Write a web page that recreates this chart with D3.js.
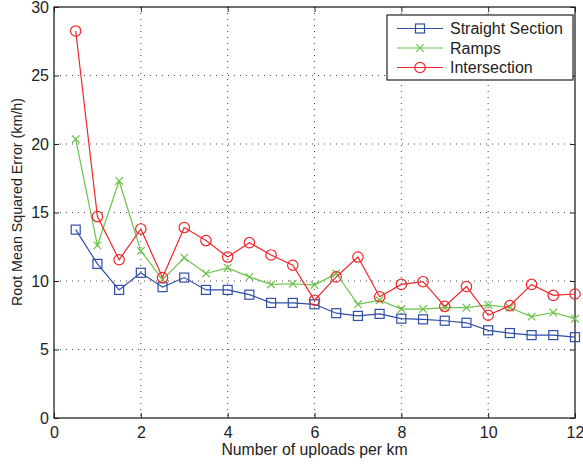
<!DOCTYPE html>
<html>
<head>
<meta charset="utf-8">
<script src="https://cdn.jsdelivr.net/npm/d3@7"></script>
<style>
    body { margin: 0; background: #fff; }
    text { font-family: "Liberation Sans", Arial, sans-serif; fill: #222; }
</style>
</head>
<body>
<script>
"use strict"

/* valori */
const uploads = [0.5, 1, 1.5, 2, 2.5, 3, 3.5, 4, 4.5, 5, 5.5, 6, 6.5, 7, 7.5, 8, 8.5, 9, 9.5, 10, 10.5, 11, 11.5, 12];
const straightSection = [13.75, 11.25, 9.35, 10.6, 9.55, 10.25, 9.35, 9.35, 9.0, 8.4, 8.4, 8.3, 7.65, 7.45, 7.6, 7.25, 7.2, 7.1, 6.95, 6.4, 6.2, 6.05, 6.05, 5.9];
const ramps = [20.35, 12.6, 17.3, 12.2, 10.1, 11.7, 10.55, 10.95, 10.3, 9.75, 9.8, 9.7, 10.55, 8.3, 8.6, 7.95, 7.95, 8.05, 8.05, 8.25, 8.05, 7.4, 7.7, 7.25];
const intersection = [28.25, 14.7, 11.55, 13.8, 10.25, 13.9, 12.95, 11.75, 12.8, 11.9, 11.15, 8.6, 10.3, 11.75, 8.85, 9.75, 9.95, 8.15, 9.6, 7.5, 8.2, 9.75, 8.95, 9.05];
const xTicks = [0, 2, 4, 6, 8, 10, 12];
const yTicks = [0, 5, 10, 15, 20, 25, 30];
const seriesNames = ["Straight Section", "Ramps", "Intersection"];

const grafico = { larghezza: 583, altezza: 466 };
const area = { sinistra: 54, destra: 575, alto: 7, basso: 418 };

const x = d3.scaleLinear().domain([0, 12]).range([area.sinistra, area.destra]);
const y = d3.scaleLinear().domain([0, 30]).range([area.basso, area.alto]);

const svg = d3.select("body")
    .append("svg")
    .attr("width", grafico.larghezza)
    .attr("height", grafico.altezza);

/* griglia tratteggiata */
const griglia = svg.append("g");
griglia.selectAll("line.gx")
    .data(xTicks.slice(1, -1))
    .enter()
    .append("line")
    .attr("x1", d => x(d)).attr("x2", d => x(d))
    .attr("y1", area.alto).attr("y2", area.basso);
griglia.selectAll("line.gy")
    .data(yTicks.slice(1, -1))
    .enter()
    .append("line")
    .attr("y1", d => y(d)).attr("y2", d => y(d))
    .attr("x1", area.sinistra).attr("x2", area.destra);
griglia.selectAll("line")
    .attr("stroke", "#444")
    .attr("stroke-width", 1)
    .attr("stroke-dasharray", "1,5");

/* assi con tacche interne su tutti e quattro i lati */
const tacca = 5;
svg.append("g")
    .attr("transform", "translate(0," + area.basso + ")")
    .call(d3.axisBottom(x).tickValues(xTicks).tickSizeInner(-tacca).tickSizeOuter(0).tickPadding(9))
    .call(g => g.select(".domain").remove());
svg.append("g")
    .attr("transform", "translate(0," + area.alto + ")")
    .call(d3.axisTop(x).tickValues(xTicks).tickSizeInner(-tacca).tickSizeOuter(0).tickFormat(""))
    .call(g => g.select(".domain").remove());
svg.append("g")
    .attr("transform", "translate(" + area.sinistra + ",0)")
    .call(d3.axisLeft(y).tickValues(yTicks).tickSizeInner(-tacca).tickSizeOuter(0).tickPadding(5))
    .call(g => g.select(".domain").remove());
svg.append("g")
    .attr("transform", "translate(" + area.destra + ",0)")
    .call(d3.axisRight(y).tickValues(yTicks).tickSizeInner(-tacca).tickSizeOuter(0).tickFormat(""))
    .call(g => g.select(".domain").remove());
svg.selectAll(".tick line").attr("stroke", "#222");
svg.selectAll(".tick text")
    .attr("font-size", 16)
    .attr("font-family", "Liberation Sans, Arial, sans-serif")
    .attr("fill", "#222");

/* cornice */
svg.append("rect")
    .attr("x", area.sinistra).attr("y", area.alto)
    .attr("width", area.destra - area.sinistra)
    .attr("height", area.basso - area.alto)
    .attr("fill", "none")
    .attr("stroke", "#222")
    .attr("stroke-width", 1.3);

/* titoli degli assi */
svg.append("text")
    .attr("x", (area.sinistra + area.destra) / 2)
    .attr("y", 455)
    .attr("text-anchor", "middle")
    .attr("font-size", 15.8)
    .text("Number of uploads per km");
svg.append("text")
    .attr("transform", "translate(22,202) rotate(-90)")
    .attr("text-anchor", "middle")
    .attr("font-size", 14.3)
    .text("Root Mean Squared Error (km/h)");

/* serie */
const serie = [
    { nome: seriesNames[0], valori: straightSection, colore: "#2f4ea6", marker: "square" },
    { nome: seriesNames[1], valori: ramps, colore: "#6cc24a", marker: "cross" },
    { nome: seriesNames[2], valori: intersection, colore: "#f0262b", marker: "circle" }
];

const linea = d3.line()
    .x((d, i) => x(uploads[i]))
    .y(d => y(d));

function disegnaMarker(g, tipo, colore) {
    if (tipo == "square") {
        g.append("rect")
            .attr("x", -4.5).attr("y", -4.5).attr("width", 9).attr("height", 9)
            .attr("fill", "none").attr("stroke", colore).attr("stroke-width", 1.2);
    } else if (tipo == "circle") {
        g.append("circle")
            .attr("r", 5.2)
            .attr("fill", "none").attr("stroke", colore).attr("stroke-width", 1.2);
    } else {
        g.append("path")
            .attr("d", "M-3.8,-3.8L3.8,3.8M-3.8,3.8L3.8,-3.8")
            .attr("stroke", colore).attr("stroke-width", 1.2);
    }
}

serie.forEach(function (s) {
    svg.append("path")
        .attr("d", linea(s.valori))
        .attr("fill", "none")
        .attr("stroke", s.colore)
        .attr("stroke-width", 1.2);
    svg.append("g")
        .selectAll("g")
        .data(s.valori)
        .enter()
        .append("g")
        .attr("transform", (d, i) => "translate(" + x(uploads[i]) + "," + y(d) + ")")
        .each(function () { disegnaMarker(d3.select(this), s.marker, s.colore) });
});

/* legenda */
const legenda = svg.append("g").attr("transform", "translate(387,15)");
legenda.append("rect")
    .attr("width", 186).attr("height", 65)
    .attr("fill", "#fff")
    .attr("stroke", "#222")
    .attr("stroke-width", 1.2);
const voci = legenda.selectAll("g")
    .data(serie)
    .enter()
    .append("g")
    .attr("transform", (d, i) => "translate(0," + (13.5 + i * 19.5) + ")");
voci.append("line")
    .attr("x1", 10).attr("x2", 56)
    .attr("stroke", d => d.colore)
    .attr("stroke-width", 1.2);
voci.append("g")
    .attr("transform", "translate(33,0)")
    .each(function (d) { disegnaMarker(d3.select(this), d.marker, d.colore) });
voci.append("text")
    .attr("x", 63)
    .attr("y", 5.5)
    .attr("font-size", 16)
    .text(d => d.nome);
</script>
</body>
</html>
